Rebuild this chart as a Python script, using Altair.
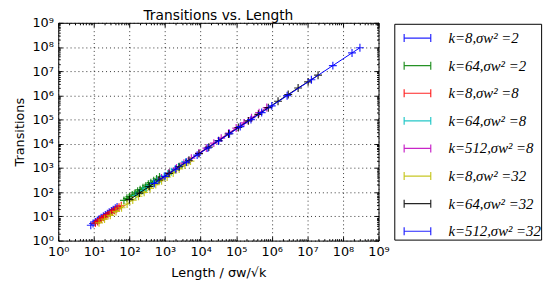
import altair as alt
import pandas as pd

labels = ["k=8,σw² =2", "k=64,σw² =2", "k=8,σw² =8", "k=64,σw² =8",
          "k=512,σw² =8", "k=8,σw² =32", "k=64,σw² =32", "k=512,σw² =32"]
colors = ["#0000ff", "#008000", "#ff0000", "#00bfbf", "#bf00bf", "#bfbf00", "#000000", "#0000ff"]

x1 = [8.2, 9.5, 11, 12.5, 14, 16, 18.5, 21, 24, 27, 31, 35, 40, 45]
y1 = [4.3, 5.1, 5.9, 6.8, 7.7, 8.8, 10.2, 11.6, 13.1, 14.8, 17, 19.1, 21.8, 24.4]

x2 = [70, 85, 100, 120, 145, 170, 200, 240, 290, 340, 400, 480, 580, 700]
y2 = [46, 56, 66, 78, 94, 110, 128, 152, 182, 212, 248, 296, 354, 425]

x3 = [11, 12.8, 14.5, 16.5, 19, 22, 25, 29, 33, 38, 44, 51, 59]
y3 = [5.3, 6.1, 7.0, 7.9, 9.1, 10.5, 11.9, 13.8, 15.6, 17.9, 20.7, 23.9, 27.6]

x4 = [150, 190, 240, 300, 380, 480, 600, 760, 950, 1200, 1500, 1900, 2400, 3000, 3800]
y4 = [73, 92, 116, 144, 182, 229, 285, 360, 448, 562, 700, 882, 1110, 1380, 1740]

x5 = [800, 1300, 2100, 3400, 5500, 9000, 14500, 23500, 38000, 62000, 100000, 165000, 270000, 440000, 720000]
y5 = [385, 620, 995, 1600, 2560, 4150, 6650, 10700, 17200, 27900, 44800, 73500, 119000, 193000, 315000]

x6 = [14, 20, 29, 42, 60, 86, 124, 180, 260, 380, 550, 800, 1150, 1700, 2500, 3600, 5200]
y6 = [5.4, 7.7, 11.1, 16.0, 22.8, 32.6, 47, 68, 98, 142, 205, 297, 425, 625, 915, 1310, 1920]

x7 = [100, 190, 360, 680, 1300, 2500, 4700, 9000, 17000, 32000, 61000, 115000, 220000, 420000,
      800000, 1500000, 2900000, 5500000, 10500000, 20000000]
y7 = [49, 92, 172, 320, 600, 1130, 2090, 3930, 7300, 13500, 25400, 47200, 88600, 166000,
      311000, 574000, 1090000, 2030000, 3640000, 6850000]

x8 = [500, 1000, 2000, 4000, 8000, 16000, 32000, 65000, 130000, 260000, 520000, 1000000,
      2700000, 13000000, 52000000, 180000000, 300000000]
y8 = [232, 455, 890, 1750, 3420, 6720, 13100, 26000, 51100, 100000, 196000, 370000,
      972000, 4450000, 17100000, 56900000, 93300000]

xs = [x1, x2, x3, x4, x5, x6, x7, x8]
ys = [y1, y2, y3, y4, y5, y6, y7, y8]

supers = "['⁰','¹','²','³','⁴','⁵','⁶','⁷','⁸','⁹'][round(log(datum.value)/LN10)]"
decades = [10 ** i for i in range(10)]
minors = [m * 10 ** e for e in range(9) for m in range(2, 10)]

logscale = alt.Scale(type="log", domain=[1, 1e9], nice=False)

color = alt.Color(
    "label:N",
    scale=alt.Scale(domain=labels, range=colors),
    sort=labels,
    legend=alt.Legend(
        orient="none", legendX=341, legendY=1, title=None,
        symbolType="M-1,0H1M-1,-0.3V0.3M1,-0.3V0.3", symbolSize=729,
        symbolStrokeWidth=1.2, symbolOffset=9, labelFont="Liberation Serif",
        labelFontSize=15, labelFontStyle="italic", labelOffset=17, padding=0,
        rowPadding=5, strokeColor="black", fillColor="white", labelLimit=400,
        labelColor="black",
    ),
)

main_x = alt.Axis(values=decades, labelExpr="'10' + " + supers, title="Length / σw/√k",
                  labelFlush=False, labelOverlap=False)
main_y = alt.Axis(values=decades, labelExpr="'10' + " + supers, title="Transitions",
                  labelOverlap=False)

layers = []
for i, (lab, xv, yv) in enumerate(zip(labels, xs, ys)):
    df = pd.DataFrame({"x": xv, "y": yv, "label": lab})
    xa = main_x if i == 0 else None
    ya = main_y if i == 0 else None
    base = alt.Chart(df).encode(
        x=alt.X("x:Q", scale=logscale, axis=xa),
        y=alt.Y("y:Q", scale=logscale, axis=ya),
        color=color,
    )
    layers.append(base.mark_line(strokeWidth=1, clip=True))
    layers.append(base.mark_point(shape="M-1,0H1M0,-1V1", size=64, filled=False,
                                  strokeWidth=1.2, opacity=0.85, clip=True).encode(
        x=alt.X("x:Q", scale=logscale, axis=None),
        y=alt.Y("y:Q", scale=logscale, axis=None)))

# inside tick marks on all four sides (major and minor)
tick_df = pd.DataFrame({"x": x8, "y": y8})


def tick_layer(channel, orient, vals, size):
    ax = alt.Axis(orient=orient, offset=-size, values=vals, ticks=True, tickSize=size,
                  tickColor="black", tickWidth=1, labels=False, domain=False, grid=False,
                  title=None)
    if channel == "x":
        enc = dict(x=alt.X("x:Q", scale=logscale, axis=ax),
                   y=alt.Y("y:Q", scale=logscale, axis=None))
    else:
        enc = dict(x=alt.X("x:Q", scale=logscale, axis=None),
                   y=alt.Y("y:Q", scale=logscale, axis=ax))
    return alt.Chart(tick_df).mark_point(opacity=0).encode(**enc)


for ch, ors in (("x", ("bottom", "top")), ("y", ("left", "right"))):
    for o in ors:
        layers.append(tick_layer(ch, o, decades, 4))
        layers.append(tick_layer(ch, o, minors, 2))

chart = alt.layer(*layers).resolve_axis(x="independent", y="independent").properties(
    width=325, height=221,
    title=alt.TitleParams("Transitions vs. Length", fontSize=14, font="DejaVu Sans",
                          fontWeight="normal", offset=3, dy=9, color="black"),
    autosize=alt.AutoSizeParams(type="none"),
    padding={"left": 51, "top": 13, "right": 174, "bottom": 42},
).configure_view(
    stroke="black", strokeWidth=1
).configure_axis(
    domain=False, ticks=False, grid=True, gridColor="black", gridDash=[1, 3],
    gridWidth=0.8, gridOpacity=1, labelFont="DejaVu Sans", labelFontSize=13,
    labelColor="black", labelPadding=5, titleFont="DejaVu Sans", titleFontSize=13,
    titleFontWeight="normal", titleColor="black",
).configure_axisX(titlePadding=8).configure_axisY(titlePadding=6)

chart.save("out.html", embed_options={"renderer": "svg", "actions": False})
